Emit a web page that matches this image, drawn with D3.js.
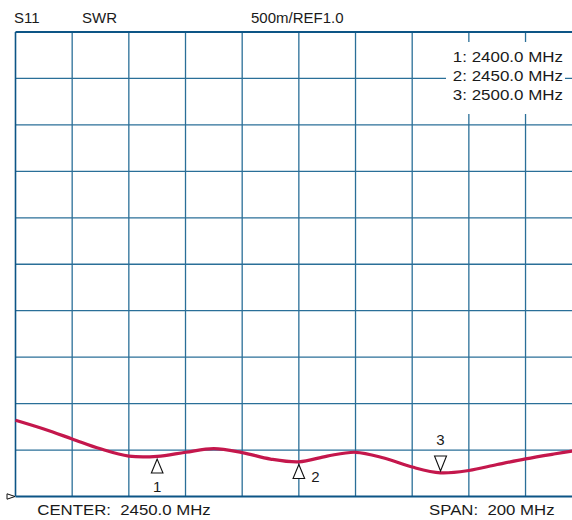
<!DOCTYPE html>
<html>
<head>
<meta charset="utf-8">
<script src="https://cdn.jsdelivr.net/npm/d3@7"></script>
<style>
  body { margin: 0; background: #fff; }
  svg { display: block; font-family: "Liberation Sans", Arial, Helvetica, sans-serif; }
  text { white-space: pre; fill: #1a1a1a; }
</style>
</head>
<body>
<div id="chart"></div>
<script>
const freqs = [2350, 2360, 2370, 2380, 2390, 2400, 2410, 2420, 2430, 2440, 2450,
               2460, 2470, 2480, 2490, 2500, 2510, 2520, 2530, 2540, 2550];
const swr = [1.820, 1.726, 1.620, 1.513, 1.435, 1.432, 1.476, 1.516, 1.473, 1.403, 1.373,
             1.435, 1.476, 1.414, 1.317, 1.255, 1.280, 1.344, 1.405, 1.457, 1.505];

// Markers
const markerIds = ["1", "2", "3"];
const markerFreqs = [2400, 2450, 2500];
const markerLegend = ["1: 2400.0 MHz", "2: 2450.0 MHz", "3: 2500.0 MHz"];

// Header / footer text
const headerLabels = ["S11", "SWR", "500m/REF1.0"];
const footerLabels = ["CENTER:  2450.0 MHz", "SPAN:  200 MHz"];

const width = 572, height = 520;
const gridColor = "#2a6f98";
const borderColor = "#0d5586";
const traceColor = "#c4174c";

const svg = d3.select("#chart").append("svg")
  .attr("width", width)
  .attr("height", height);

// scales: 20 MHz/div, 500m/div with REF 1.0 at bottom
let x = d3.scaleLinear().domain([2350, 2550]).range([15.5, 582.2]);
let y = d3.scaleLinear().domain([1.0, 6.0]).range([496.5, 32]);

// grid
let grid = svg.append("g");
grid.selectAll("line.v")
  .data(d3.range(2370, 2551, 20))
  .enter().append("line")
  .attr("x1", d => x(d)).attr("x2", d => x(d))
  .attr("y1", y(6)).attr("y2", y(1))
  .attr("stroke", gridColor)
  .attr("stroke-width", 1.3);

grid.selectAll("line.h")
  .data(d3.range(1.5, 5.75, 0.5))
  .enter().append("line")
  .attr("x1", x(2350)).attr("x2", width)
  .attr("y1", d => y(d)).attr("y2", d => y(d))
  .attr("stroke", gridColor)
  .attr("stroke-width", 1.3);

// border (left, top, bottom)
grid.append("line")
  .attr("x1", x(2350)).attr("x2", x(2350))
  .attr("y1", y(6)).attr("y2", y(1))
  .attr("stroke", borderColor).attr("stroke-width", 1.6);
grid.append("line")
  .attr("x1", x(2350)).attr("x2", width)
  .attr("y1", y(6)).attr("y2", y(6))
  .attr("stroke", borderColor).attr("stroke-width", 2.2);
grid.append("line")
  .attr("x1", x(2350)).attr("x2", width)
  .attr("y1", y(1)).attr("y2", y(1))
  .attr("stroke", borderColor).attr("stroke-width", 2.2);

// legend box covers the grid
svg.append("rect")
  .attr("x", 446).attr("y", 42)
  .attr("width", 119).attr("height", 72)
  .attr("fill", "#fff");

svg.selectAll("text.legend")
  .data(markerLegend)
  .enter().append("text")
  .attr("class", "legend")
  .attr("transform", (d, i) => `translate(563, ${62 + i * 19}) scale(1.13, 1)`)
  .style("text-anchor", "end")
  .style("font-size", "15px")
  .text(d => d);

// trace
let data = freqs.map((f, i) => ({freq: f, swr: swr[i]}));
svg.append("path")
  .datum(data)
  .attr("fill", "none")
  .attr("stroke", traceColor)
  .attr("stroke-width", 3.2)
  .attr("stroke-linejoin", "round")
  .attr("d", d3.line()
    .x(d => x(d.freq))
    .y(d => y(d.swr))
    .curve(d3.curveCatmullRom));

// markers
function valueAt(f) {
  let i = freqs.indexOf(f);
  return swr[i];
}
markerFreqs.forEach(function(f, i) {
  let mx = x(f), my = y(valueAt(f));
  let g = svg.append("g");
  if (i < 2) {
    // upward triangle under the trace
    let top = my + 2.7, h = 14;
    g.append("path")
      .attr("d", `M${mx},${top} L${mx - 5.8},${top + h} L${mx + 5.8},${top + h} Z`)
      .attr("fill", "#fff").attr("stroke", "#111").attr("stroke-width", 1.1);
    if (i == 0) {
      g.append("text").attr("x", mx).attr("y", top + h + 18.5)
        .style("text-anchor", "middle").style("font-size", "15px").text(markerIds[i]);
    } else {
      g.append("text").attr("x", mx + 12.5).attr("y", top + h + 3)
        .style("font-size", "15px").text(markerIds[i]);
    }
  } else {
    // downward triangle above the trace
    let bot = my - 1.8, h = 15;
    g.append("path")
      .attr("d", `M${mx},${bot} L${mx - 6},${bot - h} L${mx + 6},${bot - h} Z`)
      .attr("fill", "#fff").attr("stroke", "#111").attr("stroke-width", 1.1);
    g.append("text").attr("x", mx).attr("y", bot - h - 11.5)
      .style("text-anchor", "middle").style("font-size", "15px").text(markerIds[i]);
  }
});

// reference level marker
let ry = y(1.0);
svg.append("path")
  .attr("d", `M7,${ry - 2.7} L15,${ry} L7,${ry + 2.7} Z`)
  .attr("fill", "#fff").attr("stroke", "#111").attr("stroke-width", 1);

// header
const headerX = [14, 82, 251];
svg.selectAll("text.header")
  .data(headerLabels)
  .enter().append("text")
  .attr("class", "header")
  .attr("x", (d, i) => headerX[i])
  .attr("y", 23.3)
  .style("font-size", "15px")
  .text(d => d);

// footer
const footerX = [37.3, 429];
svg.selectAll("text.footer")
  .data(footerLabels)
  .enter().append("text")
  .attr("class", "footer")
  .attr("transform", (d, i) => `translate(${footerX[i]}, 514.5) scale(1.12, 1)`)
  .style("font-size", "15px")
  .text(d => d);
</script>
</body>
</html>
